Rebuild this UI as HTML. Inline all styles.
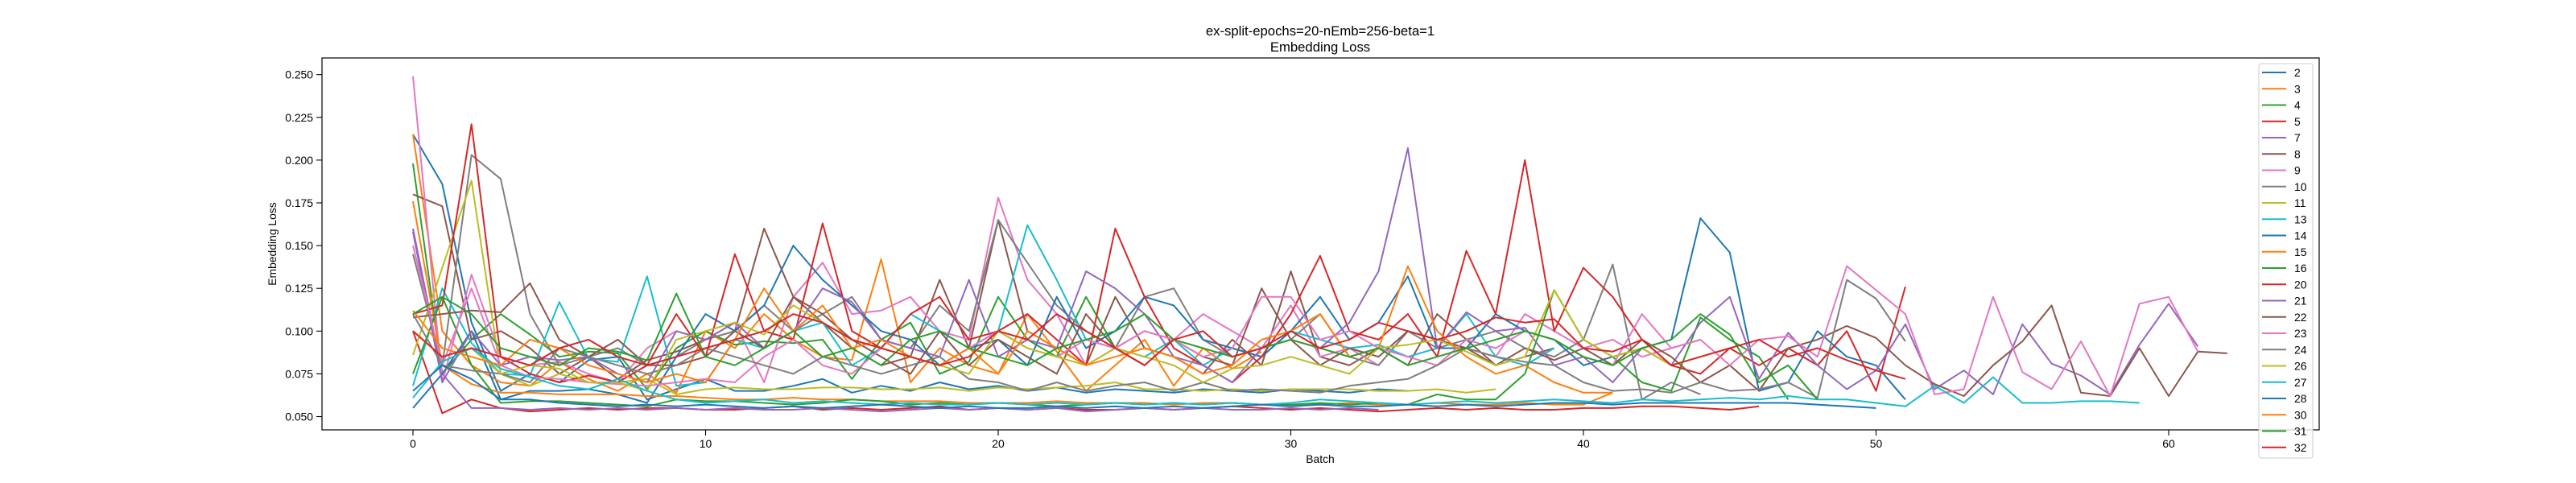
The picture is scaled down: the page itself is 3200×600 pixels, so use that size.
<!DOCTYPE html>
<html><head><meta charset="utf-8"><style>
html,body{margin:0;padding:0;background:#fff;}
svg{display:block;font-family:"Liberation Sans","DejaVu Sans",sans-serif;}
</style></head><body>
<svg id="chart" width="3200" height="600" viewBox="0 0 3200 600" xmlns="http://www.w3.org/2000/svg">
<rect width="3200" height="600" fill="#fff"/>
<text x="1640" y="44" text-anchor="middle" font-size="16.7">ex-split-epochs=20-nEmb=256-beta=1</text>
<text x="1640" y="64" text-anchor="middle" font-size="16.7">Embedding Loss</text>
<text x="0" y="0" transform="translate(343,303) rotate(-90)" text-anchor="middle" font-size="13.9">Embedding Loss</text>
<text x="1640" y="575" text-anchor="middle" font-size="13.9">Batch</text>
<g id="ticks"></g>
<g id="lines"></g>
<rect x="400" y="72" width="2481" height="462" fill="none" stroke="#000" stroke-width="1.2"/>
<g id="legend"></g>
</svg>
<script>
const seriesNames=["2","3","4","5","7","8","9","10","11","13","14","15","16","20","21","22","23","24","26","27","28","30","31","32"];
const xTicks=[0,10,20,30,40,50,60];
const yTicks=[0.050,0.075,0.100,0.125,0.150,0.175,0.200,0.225,0.250];
const s2=[0.215,0.186,0.105,0.065,0.075,0.070,0.083,0.085,0.060,0.066,0.072,0.065,0.065,0.068,0.072,0.064,0.068,0.065,0.070,0.066,0.068,0.065,0.067,0.064,0.066,0.065,0.064,0.066,0.065,0.064,0.066,0.065,0.064,0.066,0.065];
const s3=[0.215,0.100,0.080,0.070,0.068,0.082,0.072,0.065,0.075,0.064,0.100,0.090,0.110,0.095,0.085,0.083,0.142,0.070,0.090,0.080,0.075,0.110,0.088,0.065,0.080,0.095,0.068,0.090,0.078,0.088];
const s4=[0.198,0.075,0.095,0.110,0.098,0.085,0.088,0.087,0.066,0.090,0.100,0.092,0.094,0.093,0.095,0.072,0.095,0.105,0.075,0.082,0.120,0.095,0.085,0.120,0.090,0.080];
const s5=[0.100,0.052,0.060,0.055,0.053,0.054,0.055,0.054,0.055,0.055,0.054,0.054,0.055,0.056,0.054,0.055,0.054,0.055,0.056,0.054,0.055,0.054,0.055,0.054,0.054,0.055,0.054,0.055,0.056,0.055,0.054,0.055,0.054,0.053,0.054,0.055,0.054,0.055,0.054,0.054,0.055,0.055,0.056,0.056,0.055,0.054,0.056];
const s7=[0.160,0.075,0.055,0.055,0.054,0.055,0.054,0.055,0.054,0.055,0.054,0.055,0.054,0.054,0.055,0.054,0.053,0.054,0.055,0.054,0.055,0.054,0.055,0.053,0.054,0.055,0.054,0.055,0.054,0.054,0.055,0.054,0.055,0.054];
const s8=[0.180,0.173,0.095,0.100,0.090,0.075,0.085,0.072,0.083,0.088,0.095,0.100,0.160,0.120,0.105,0.090,0.080,0.085,0.130,0.090,0.165,0.100,0.090,0.080,0.120,0.090,0.085,0.075,0.095,0.080,0.135,0.085,0.080,0.090,0.080,0.110,0.095,0.080,0.085,0.090];
const s9=[0.249,0.070,0.133,0.085,0.080,0.082,0.075,0.070,0.090,0.100,0.095,0.105,0.070,0.120,0.140,0.110,0.112,0.120,0.100,0.095,0.178,0.130,0.110,0.080,0.090,0.100,0.095,0.110,0.100,0.090,0.115,0.085,0.090,0.080,0.100,0.095,0.090,0.085,0.110,0.100,0.090,0.095,0.085,0.090,0.095];
const s10=[0.145,0.080,0.203,0.189,0.110,0.080,0.085,0.090,0.080,0.085,0.095,0.100,0.115,0.100,0.110,0.120,0.095,0.090,0.115,0.100,0.165,0.140,0.115,0.100,0.090,0.120,0.125,0.095,0.085,0.090,0.095,0.110,0.085,0.080,0.100,0.090,0.095,0.100,0.090,0.085,0.095,0.139,0.060,0.070,0.063];
const s11=[0.086,0.137,0.188,0.075,0.068,0.075,0.070,0.070,0.072,0.063,0.066,0.067,0.066,0.066,0.067,0.067,0.066,0.066,0.067,0.065,0.067,0.066,0.067,0.068,0.070,0.066,0.066,0.065,0.066,0.065,0.066,0.066,0.066,0.065,0.065,0.066,0.064,0.066];
const s13=[0.068,0.125,0.093,0.075,0.074,0.117,0.084,0.082,0.132,0.068,0.070,0.095,0.090,0.100,0.105,0.080,0.090,0.110,0.100,0.090,0.100,0.162,0.130,0.095,0.090,0.085,0.095,0.080,0.090,0.085,0.100,0.095,0.090,0.092,0.085,0.090,0.110,0.085,0.080,0.090];
const s14=[0.055,0.075,0.100,0.060,0.065,0.065,0.066,0.063,0.058,0.085,0.110,0.100,0.115,0.150,0.130,0.115,0.100,0.095,0.080,0.090,0.095,0.080,0.120,0.090,0.100,0.120,0.115,0.095,0.090,0.085,0.100,0.120,0.095,0.105,0.132,0.090,0.090,0.110,0.100,0.095,0.080,0.085,0.090,0.095,0.166,0.146,0.065,0.070,0.100,0.085,0.080,0.060];
const s15=[0.176,0.080,0.069,0.064,0.064,0.063,0.063,0.063,0.062,0.062,0.061,0.060,0.060,0.061,0.060,0.060,0.059,0.059,0.059,0.058,0.058,0.058,0.059,0.058,0.058,0.058,0.057,0.058,0.058,0.057,0.057,0.057,0.058,0.057,0.057,0.058,0.057,0.057,0.058,0.057,0.057,0.064];
const s16=[0.075,0.120,0.080,0.058,0.059,0.059,0.058,0.057,0.056,0.060,0.059,0.059,0.058,0.057,0.058,0.060,0.059,0.057,0.058,0.057,0.058,0.057,0.056,0.057,0.058,0.057,0.058,0.057,0.058,0.057,0.057,0.058,0.057,0.058,0.057,0.063,0.060,0.060,0.075,0.124,0.095,0.085,0.070,0.065,0.108,0.095,0.085,0.060];
const s20=[0.110,0.115,0.221,0.085,0.075,0.070,0.074,0.070,0.080,0.110,0.085,0.145,0.100,0.095,0.163,0.100,0.090,0.110,0.120,0.095,0.100,0.110,0.095,0.080,0.160,0.120,0.090,0.080,0.070,0.085,0.110,0.144,0.100,0.095,0.110,0.085,0.147,0.110,0.200,0.100,0.137,0.120,0.095,0.080,0.075,0.090,0.080,0.090,0.080,0.100,0.065,0.126];
const s21=[0.158,0.070,0.100,0.080,0.085,0.083,0.085,0.075,0.070,0.100,0.095,0.105,0.090,0.100,0.125,0.117,0.095,0.090,0.085,0.130,0.085,0.095,0.090,0.135,0.125,0.110,0.085,0.080,0.070,0.090,0.095,0.090,0.105,0.135,0.207,0.090,0.111,0.100,0.102,0.080,0.085,0.070,0.090,0.080,0.105,0.120,0.072,0.099,0.080,0.066,0.077,0.104,0.066,0.077,0.063,0.104,0.081,0.074,0.063,0.092,0.116,0.091];
const s22=[0.108,0.110,0.112,0.111,0.128,0.095,0.085,0.095,0.080,0.080,0.085,0.100,0.090,0.120,0.110,0.095,0.085,0.075,0.100,0.080,0.095,0.085,0.075,0.110,0.090,0.080,0.095,0.085,0.080,0.125,0.095,0.080,0.090,0.085,0.100,0.095,0.090,0.080,0.090,0.083,0.090,0.080,0.095,0.085,0.070,0.080,0.065,0.090,0.095,0.103,0.096,0.080,0.069,0.062,0.080,0.094,0.115,0.064,0.062,0.090,0.062,0.088,0.087];
const s23=[0.150,0.080,0.125,0.080,0.073,0.072,0.070,0.069,0.068,0.070,0.072,0.070,0.085,0.095,0.080,0.075,0.090,0.085,0.080,0.090,0.100,0.090,0.085,0.095,0.090,0.100,0.095,0.085,0.090,0.120,0.120,0.095,0.100,0.090,0.085,0.080,0.095,0.090,0.100,0.095,0.085,0.080,0.110,0.090,0.095,0.080,0.095,0.097,0.085,0.138,0.124,0.110,0.063,0.066,0.120,0.076,0.066,0.094,0.062,0.116,0.120,0.088];
const s24=[0.110,0.080,0.077,0.075,0.070,0.090,0.085,0.080,0.075,0.080,0.090,0.085,0.080,0.075,0.085,0.080,0.075,0.080,0.085,0.072,0.070,0.065,0.070,0.065,0.068,0.070,0.065,0.070,0.065,0.066,0.065,0.064,0.068,0.070,0.072,0.080,0.090,0.085,0.082,0.080,0.070,0.065,0.066,0.064,0.070,0.065,0.066,0.070,0.061,0.130,0.119,0.094];
const s26=[0.100,0.085,0.090,0.075,0.080,0.078,0.070,0.070,0.065,0.095,0.100,0.105,0.098,0.115,0.105,0.095,0.090,0.085,0.080,0.075,0.100,0.090,0.085,0.080,0.090,0.085,0.080,0.070,0.078,0.080,0.085,0.080,0.075,0.090,0.092,0.095,0.088,0.080,0.085,0.124,0.095,0.085,0.090,0.080,0.085,0.090];
const s27=[0.061,0.082,0.090,0.078,0.073,0.068,0.066,0.072,0.065,0.060,0.058,0.059,0.060,0.058,0.059,0.058,0.057,0.058,0.057,0.057,0.058,0.057,0.058,0.057,0.058,0.057,0.058,0.057,0.058,0.057,0.058,0.060,0.059,0.058,0.057,0.058,0.059,0.058,0.059,0.060,0.059,0.058,0.060,0.059,0.060,0.061,0.060,0.062,0.060,0.060,0.058,0.056,0.068,0.058,0.073,0.058,0.058,0.059,0.059,0.058];
const s28=[0.065,0.080,0.072,0.060,0.060,0.058,0.057,0.056,0.057,0.056,0.057,0.056,0.055,0.056,0.055,0.056,0.057,0.056,0.055,0.056,0.055,0.055,0.056,0.055,0.056,0.055,0.056,0.055,0.056,0.057,0.056,0.057,0.056,0.056,0.057,0.056,0.057,0.056,0.057,0.058,0.058,0.057,0.058,0.058,0.058,0.058,0.058,0.058,0.057,0.056,0.055];
const s30=[0.112,0.090,0.085,0.080,0.095,0.090,0.080,0.075,0.070,0.075,0.070,0.095,0.125,0.100,0.115,0.090,0.095,0.085,0.080,0.090,0.075,0.100,0.090,0.080,0.085,0.090,0.085,0.075,0.080,0.095,0.100,0.110,0.085,0.090,0.138,0.100,0.085,0.075,0.080,0.070,0.064,0.064];
const s31=[0.110,0.120,0.110,0.090,0.085,0.080,0.090,0.088,0.083,0.122,0.085,0.080,0.090,0.100,0.085,0.090,0.080,0.095,0.100,0.090,0.085,0.080,0.090,0.095,0.100,0.110,0.095,0.090,0.085,0.090,0.095,0.090,0.085,0.090,0.080,0.085,0.090,0.095,0.100,0.095,0.085,0.080,0.090,0.095,0.110,0.098,0.070,0.080,0.060];
const s32=[0.100,0.085,0.090,0.085,0.080,0.090,0.095,0.085,0.080,0.085,0.090,0.095,0.100,0.110,0.105,0.095,0.090,0.085,0.080,0.085,0.100,0.095,0.110,0.100,0.090,0.080,0.095,0.100,0.085,0.090,0.100,0.090,0.095,0.105,0.100,0.095,0.100,0.108,0.105,0.107,0.090,0.088,0.095,0.080,0.085,0.090,0.095,0.085,0.090,0.083,0.077,0.072];
const seriesValues=[s2,s3,s4,s5,s7,s8,s9,s10,s11,s13,s14,s15,s16,s20,s21,s22,s23,s24,s26,s27,s28,s30,s31,s32];
const palette=["#1f77b4","#ff7f0e","#2ca02c","#d62728","#9467bd","#8c564b","#e377c2","#7f7f7f","#bcbd22","#17becf"];

const NS="http://www.w3.org/2000/svg";
function xScale(v){return 513+v*36.35;}
function yScale(v){return 92.7+(0.25-v)*2124;}
function mk(tag,attrs,parent){const e=document.createElementNS(NS,tag);for(const k in attrs)e.setAttribute(k,attrs[k]);parent.appendChild(e);return e;}

const tg=document.getElementById('ticks');
xTicks.forEach(t=>{
  const x=xScale(t);
  const l=mk('line',{x1:x,x2:x,y1:534,y2:541,stroke:'#000','stroke-width':1.1},tg);
  
  
  const tx=mk('text',{x:x,y:556,'text-anchor':'middle','font-size':13.9},tg);
  tx.textContent=String(t);
  
  
});
yTicks.forEach(t=>{
  const y=yScale(t);
  const l=mk('line',{x1:393,x2:400,y1:y,y2:y,stroke:'#000','stroke-width':1.1},tg);
  
  
  const tx=mk('text',{x:389,y:y+5,'text-anchor':'end','font-size':13.9},tg);
  tx.textContent=t.toFixed(3);
  
  
});

const lg=document.getElementById('lines');
seriesValues.forEach((arr,i)=>{
  const pts=arr.map((v,j)=>xScale(j).toFixed(1)+','+yScale(v).toFixed(1)).join(' ');
  const p=mk('polyline',{points:pts,fill:'none',stroke:palette[i%10],'stroke-width':2,'stroke-linejoin':'round'},lg);
  
  
});

const leg=document.getElementById('legend');
const box=mk('rect',{x:2806,y:79,width:67,height:490,rx:3,fill:'#fff','fill-opacity':0.8,stroke:'#ccc','stroke-width':1},leg);


seriesNames.forEach((n,i)=>{
  const y=90+i*20.25;
  const l=mk('line',{x1:2810,x2:2840,y1:y,y2:y,stroke:palette[i%10],'stroke-width':2},leg);
  
  
  const t=mk('text',{x:2850,y:y+5,'font-size':13.9},leg);
  t.textContent=n;
  
  
});
</script>
</body></html>
